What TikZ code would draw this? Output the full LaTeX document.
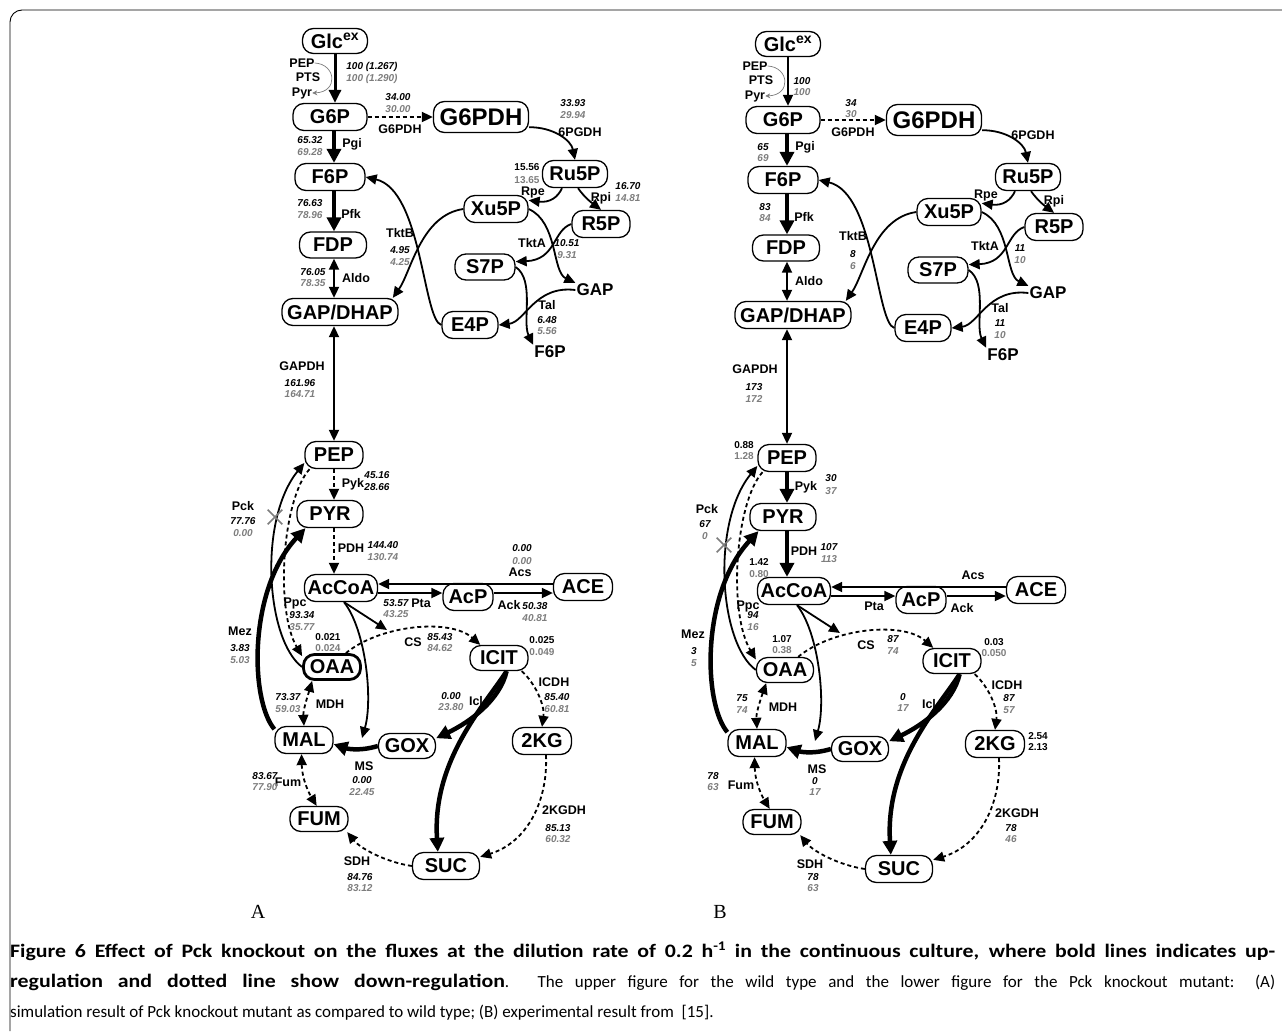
\documentclass[tikz,border=0pt]{standalone}
\usepackage{fontspec}
\setmainfont{Liberation Sans}
\newfontfamily\capfont{Carlito}
\newfontfamily\capb{Carlito}[FakeStretch=1.15]
\newfontfamily\serfont{Liberation Serif}
\usetikzlibrary{arrows.meta,shapes.misc}
\definecolor{gr}{RGB}{125,125,125}
\tikzset{
 met/.style={draw, line width=1.3pt, rounded corners=11pt, inner sep=0pt, font=\fontsize{20}{20}\selectfont\bfseries, minimum height=27pt},
 mt/.style={font=\fontsize{17}{17}\selectfont\bfseries, inner sep=1pt},
 rl/.style={font=\fontsize{12.5}{13}\selectfont\bfseries, inner sep=0pt},
 na/.style={font=\fontsize{10}{11}\selectfont\bfseries\itshape, inner sep=0pt},
 nb/.style={na, text=gr},
 ca/.style={font=\fontsize{10}{11}\selectfont\bfseries, inner sep=0pt},
 cb/.style={ca, text=gr},
 nl/.style={line width=1.8pt, -{Triangle[length=11pt,width=10pt]}},
 nd/.style={line width=1.8pt, {Triangle[length=11pt,width=10pt]}-{Triangle[length=11pt,width=10pt]}},
 bl/.style={line width=4.5pt, -{Triangle[length=14pt,width=14pt]}},
 ml/.style={line width=3pt, -{Triangle[length=13pt,width=12pt]}},
 dl/.style={nl, dash pattern=on 4pt off 3pt},
 dd/.style={nd, dash pattern=on 4pt off 3pt},
 ptsl/.style={color=gr, line width=0.7pt, -{Stealth[length=5pt,width=5pt]}},
 xm/.style={draw=gr, cross out, line width=1.6pt, minimum size=13pt, inner sep=0pt},
 capl/.style={anchor=base west, inner sep=0pt, font=\capfont\fontsize{17}{20}\selectfont},
}
\newcommand\nm[4]{\node[#1] (#2) at (#3) {#4};}
\newcommand\capbf[1]{{\capb\bfseries\fontsize{19}{20}\selectfont #1}}
\newcommand\drawpanel[1]{%
\node[met,minimum width=65pt,minimum height=25pt] (#1Glc) at (335,41) {Glc\textsuperscript{ex}};
\node[met,minimum width=74pt] (#1G6P) at (330,117) {G6P};
\node[met,minimum width=95pt,minimum height=31pt,font=\fontsize{24}{24}\selectfont\bfseries] (#1G6PDH) at (481,117) {G6PDH};
\node[met,minimum width=70pt] (#1F6P) at (330,177) {F6P};
\node[met,minimum width=65pt] (#1Ru5P) at (575,174) {Ru5P};
\node[met,minimum width=64pt] (#1Xu5P) at (496,209) {Xu5P};
\node[met,minimum width=58pt] (#1R5P) at (601,224) {R5P};
\node[met,minimum width=67pt,minimum height=26pt] (#1FDP) at (333,245) {FDP};
\node[met,minimum width=116pt] (#1GD) at (340,312) {GAP/DHAP};
\node[met,minimum width=60pt,minimum height=26pt] (#1S7P) at (485,267) {S7P};
\node[met,minimum width=56pt] (#1E4P) at (470,325) {E4P};
\node[mt] (#1GAPt) at (595,290) {GAP};
\node[mt] (#1F6Pt) at (550,352) {F6P};
\node[met,minimum width=58pt] (#1PEP) at (334,455) {PEP};
\node[met,minimum width=66pt] (#1PYR) at (330,514) {PYR};
\node[met,minimum width=73pt] (#1AcCoA) at (341,588) {AcCoA};
\node[met,minimum width=50pt] (#1AcP) at (468,597) {AcP};
\node[met,minimum width=59pt] (#1ACE) at (583,587) {ACE};
\node[met,sOAA,minimum width=57pt,minimum height=25pt] (#1OAA) at (332,667) {OAA};
\node[met,minimum width=58pt,minimum height=25pt] (#1ICIT) at (499,658) {ICIT};
\node[met,minimum width=58pt] (#1MAL) at (304,740) {MAL};
\node[met,minimum width=57pt,minimum height=25pt] (#1GOX) at (407,746) {GOX};
\node[met,minimum width=59pt] (#1KG) at (542,741) {2KG};
\node[met,minimum width=58pt,minimum height=25pt] (#1FUM) at (319,819) {FUM};
\node[met,minimum width=67pt] (#1SUC) at (446,866) {SUC};
\nm{rl}{#1lPEP}{302,63}{PEP}
\nm{rl}{#1lPTS}{308,77}{PTS}
\nm{rl}{#1lPyr}{302,93}{Pyr}
\nm{rl}{#1lG6PDH}{400,129}{G6PDH}
\nm{rl}{#1l6PGDH}{580,132}{6PGDH}
\nm{rl}{#1lPgi}{352,144}{Pgi}
\nm{rl}{#1lPfk}{351,214}{Pfk}
\nm{rl}{#1lAldo}{356,278}{Aldo}
\nm{rl}{#1lTktB}{400,233}{TktB}
\nm{rl}{#1lRpe}{533,192}{Rpe}
\nm{rl}{#1lRpi}{601,198}{Rpi}
\nm{rl}{#1lTktA}{532,243}{TktA}
\nm{rl}{#1lTal}{547,305}{Tal}
\nm{rl}{#1lGAPDH}{302,366}{GAPDH}
\nm{rl}{#1lPyk}{353,484}{Pyk}
\nm{rl}{#1lPDH}{351,548}{PDH}
\nm{rl}{#1lAcs}{520,572}{Acs}
\nm{rl}{#1lPta}{421,603}{Pta}
\nm{rl}{#1lAck}{509,605}{Ack}
\nm{rl}{#1lPpc}{295,603}{Ppc}
\nm{rl}{#1lMez}{240,631}{Mez}
\nm{rl}{#1lCS}{413,642}{CS}
\nm{rl}{#1lMDH}{330,704}{MDH}
\nm{rl}{#1lIcl}{476,701}{Icl}
\nm{rl}{#1lICDH}{554,682}{ICDH}
\nm{rl}{#1lMS}{364,766}{MS}
\nm{rl}{#1lFum}{288,782}{Fum}
\nm{rl}{#1l2KGDH}{564,810}{2KGDH}
\nm{rl}{#1lSDH}{357,861}{SDH}
\coordinate (#1x) at (334,0);
\coordinate (#1hi) at (0,584);
\coordinate (#1lo) at (0,593);
\coordinate (#1cs) at (387,630);
\coordinate (#1ms) at (362,738);
\draw[sGlc] (#1Glc.south) -- (#1Glc.south |- #1G6P.north);
\draw[ptsl] (#1lPEP.east) .. controls (336,64) and (339,92) .. (#1lPyr.east);
\draw[dl] (#1G6P) -- (#1G6PDH);
\draw[nl] (#1G6PDH.-12) .. controls (553,127) and (571,140) .. (#1Ru5P.north);
\draw[bl] (#1x |- #1G6P.south) -- (#1x |- #1F6P.north);
\draw[bl] (#1x |- #1F6P.south) -- (#1x |- #1FDP.north);
\draw[nd] (#1x |- #1FDP.south) -- (#1x |- #1GD.north);
\draw[nd] (#1x |- #1GD.south) -- (#1x |- #1PEP.north);
\draw[sPyk] (#1x |- #1PEP.south) -- (#1x |- #1PYR.north);
\draw[sPDH] (#1x |- #1PYR.south) -- (#1x |- #1AcCoA.north);
\draw[nl] ([xshift=-13pt]#1Ru5P.south) .. controls (558,197) and (550,203) .. (#1Xu5P.15);
\draw[nl] ([xshift=3pt]#1Ru5P.south) .. controls (585,198) and (592,203) .. (#1R5P.north);
\draw[nl] (#1Xu5P.east) .. controls (558,222) and (552,272) .. (#1GAPt.north west);
\draw[nl] (#1R5P.west) .. controls (553,230) and (556,260) .. (#1S7P.10);
\draw[nl] (#1S7P.east) .. controls (535,280) and (522,322) .. (#1F6Pt.north west);
\draw[nl] (#1GAPt.west) .. controls (535,285) and (525,322) .. (#1E4P.east);
\draw[nl] (#1E4P.west) .. controls (423,320) and (422,190) .. (#1F6P.east);
\draw[nl] (#1Xu5P.west) .. controls (421,215) and (411,272) .. (#1GD.15);
\draw[nl] (#1ACE.west |- #1hi) -- (#1AcCoA.east |- #1hi);
\draw[nl] (#1AcCoA.east |- #1lo) -- (#1AcP.west |- #1lo);
\draw[nl] (#1AcP.east |- #1lo) -- (#1ACE.west |- #1lo);
\draw[nl] ([xshift=3pt]#1AcCoA.south) -- (#1cs);
\draw[dl] (#1OAA.45) .. controls (380,625) and (450,618) .. (#1ICIT.145);
\draw[nl] ([xshift=3pt]#1AcCoA.south) .. controls (366,630) and (373,700) .. (#1ms);
\draw[bl] (#1GOX.west) .. controls (358,752) and (345,748) .. (#1MAL.-8);
\draw[bl] (#1ICIT.-60) .. controls (500,700) and (470,722) .. (#1GOX.15);
\draw[bl] (#1ICIT.-60) .. controls (485,705) and (432,760) .. (#1SUC.120);
\draw[dl] (#1ICIT.-30) .. controls (535,683) and (545,705) .. (#1KG.north);
\draw[dl] ([xshift=4pt]#1KG.south) .. controls (548,800) and (528,842) .. (#1SUC.15);
\draw[dl] (#1SUC.west) .. controls (385,862) and (360,848) .. (#1FUM.-25);
\draw[dd] (#1MAL.-100) .. controls (302,780) and (310,795) .. (#1FUM.100);
\draw[dd] (#1OAA.-145) .. controls (308,695) and (303,710) .. (#1MAL.north);
\draw[bl] (#1MAL.160) .. controls (250,700) and (248,590) .. (#1PYR.-150);
\draw[nl] (#1OAA.west) .. controls (266,640) and (258,520) .. (#1PEP.-165);
\draw[dl] (#1PEP.-150) .. controls (282,500) and (275,610) .. (#1OAA.160);
}
\begin{document}
\begin{tikzpicture}[x=1pt,y=-1pt]
\useasboundingbox (0,0) rectangle (1282,1031);
\fill[white] (0,0) rectangle (1282,1031);
\draw[line width=0.9pt, rounded corners=12pt] (1282,10) -- (10,10) -- (10,1031);
\begin{scope}[sGlc/.style=ml, sPyk/.style=dl, sPDH/.style=dl, sOAA/.style={line width=2.8pt}]
\drawpanel{a}
\end{scope}
\begin{scope}[shift={(453,3)}, sGlc/.style=nl, sPyk/.style=bl, sPDH/.style=bl, sOAA/.style={}]
\drawpanel{b}
\end{scope}
% Pck labels and knockout marks
\nm{rl}{aPck}{243,506}{Pck}
\nm{rl}{bPck}{707,509}{Pck}
\nm{xm}{aX}{275,517}{}
\nm{xm}{bX}{724,545}{}
% panel A numbers
\nm{na}{a1}{372,67}{100 (1.267)}
\nm{nb}{a2}{372,79}{100 (1.290)}
\nm{na}{a3}{398,97}{34.00}
\nm{nb}{a4}{398,109}{30.00}
\nm{na}{a5}{573,103}{33.93}
\nm{nb}{a6}{573,115}{29.94}
\nm{na}{a7}{310,140}{65.32}
\nm{nb}{a8}{310,152}{69.28}
\nm{ca}{a9}{527,167}{15.56}
\nm{cb}{a10}{527,180}{13.65}
\nm{na}{a11}{628,186}{16.70}
\nm{nb}{a12}{628,198}{14.81}
\nm{na}{a13}{310,203}{76.63}
\nm{nb}{a14}{310,215}{78.96}
\nm{na}{a15}{400,250}{4.95}
\nm{nb}{a16}{400,262}{4.25}
\nm{na}{a17}{567,243}{10.51}
\nm{nb}{a18}{567,255}{9.31}
\nm{na}{a19}{313,272}{76.05}
\nm{nb}{a20}{313,283}{78.35}
\nm{na}{a21}{547,320}{6.48}
\nm{nb}{a22}{547,331}{5.56}
\nm{na}{a23}{300,383}{161.96}
\nm{nb}{a24}{300,394}{164.71}
\nm{na}{a25}{377,475}{45.16}
\nm{na}{a26}{377,487}{28.66}
\nm{na}{a27}{243,521}{77.76}
\nm{nb}{a28}{243,533}{0.00}
\nm{na}{a29}{383,545}{144.40}
\nm{nb}{a30}{383,557}{130.74}
\nm{na}{a31}{522,548}{0.00}
\nm{nb}{a32}{522,561}{0.00}
\nm{na}{a33}{302,615}{93.34}
\nm{nb}{a34}{302,627}{35.77}
\nm{na}{a35}{396,603}{53.57}
\nm{nb}{a36}{396,614}{43.25}
\nm{na}{a37}{535,606}{50.38}
\nm{nb}{a38}{535,618}{40.81}
\nm{ca}{a39}{328,637}{0.021}
\nm{cb}{a40}{328,648}{0.024}
\nm{na}{a41}{440,637}{85.43}
\nm{nb}{a42}{440,648}{84.62}
\nm{ca}{a43}{542,640}{0.025}
\nm{cb}{a44}{542,652}{0.049}
\nm{na}{a45}{240,648}{3.83}
\nm{nb}{a46}{240,660}{5.03}
\nm{na}{a47}{288,697}{73.37}
\nm{nb}{a48}{288,709}{59.03}
\nm{na}{a49}{451,696}{0.00}
\nm{nb}{a50}{451,707}{23.80}
\nm{na}{a51}{557,697}{85.40}
\nm{nb}{a52}{557,709}{60.81}
\nm{na}{a53}{362,780}{0.00}
\nm{nb}{a54}{362,792}{22.45}
\nm{na}{a55}{265,776}{83.67}
\nm{nb}{a56}{265,787}{77.90}
\nm{na}{a57}{558,828}{85.13}
\nm{nb}{a58}{558,839}{60.32}
\nm{na}{a59}{360,877}{84.76}
\nm{nb}{a60}{360,888}{83.12}
% panel B numbers
\nm{na}{b1}{802,81}{100}
\nm{nb}{b2}{802,92}{100}
\nm{na}{b3}{851,103}{34}
\nm{nb}{b4}{851,114}{30}
\nm{na}{b5}{763,147}{65}
\nm{nb}{b6}{763,158}{69}
\nm{na}{b7}{765,207}{83}
\nm{nb}{b8}{765,218}{84}
\nm{na}{b9}{853,254}{8}
\nm{nb}{b10}{853,266}{6}
\nm{na}{b11}{1020,248}{11}
\nm{nb}{b12}{1020,260}{10}
\nm{na}{b13}{1000,323}{11}
\nm{nb}{b14}{1000,335}{10}
\nm{na}{b15}{754,387}{173}
\nm{nb}{b16}{754,399}{172}
\nm{ca}{b17}{744,445}{0.88}
\nm{cb}{b18}{744,456}{1.28}
\nm{na}{b19}{831,478}{30}
\nm{nb}{b20}{831,491}{37}
\nm{na}{b21}{705,524}{67}
\nm{nb}{b22}{705,536}{0}
\nm{na}{b23}{829,547}{107}
\nm{nb}{b24}{829,559}{113}
\nm{ca}{b25}{759,562}{1.42}
\nm{cb}{b26}{759,574}{0.80}
\nm{na}{b27}{753,615}{94}
\nm{nb}{b28}{753,627}{16}
\nm{ca}{b29}{782,639}{1.07}
\nm{cb}{b30}{782,650}{0.38}
\nm{na}{b31}{893,639}{87}
\nm{nb}{b32}{893,651}{74}
\nm{ca}{b33}{994,642}{0.03}
\nm{cb}{b34}{994,653}{0.050}
\nm{na}{b35}{694,651}{3}
\nm{nb}{b36}{694,663}{5}
\nm{na}{b37}{742,698}{75}
\nm{nb}{b38}{742,710}{74}
\nm{na}{b39}{903,697}{0}
\nm{nb}{b40}{903,708}{17}
\nm{na}{b41}{1009,698}{87}
\nm{nb}{b42}{1009,710}{57}
\nm{ca}{b43}{1038,736}{2.54}
\nm{ca}{b44}{1038,747}{2.13}
\nm{na}{b45}{815,781}{0}
\nm{nb}{b46}{815,792}{17}
\nm{na}{b47}{713,776}{78}
\nm{nb}{b48}{713,787}{63}
\nm{na}{b49}{1011,828}{78}
\nm{nb}{b50}{1011,839}{46}
\nm{na}{b51}{813,877}{78}
\nm{nb}{b52}{813,888}{63}
% panel letters
\node[font=\serfont\fontsize{20}{20}\selectfont] (labA) at (258,912) {A};
\node[font=\serfont\fontsize{20}{20}\selectfont] (labB) at (720,912) {B};
% caption
\node[capl] (cap1) at (10,957) {\makebox[1265pt][s]{\capbf{Figure 6 Effect of Pck knockout on the fluxes at the dilution rate of 0.2 h\textsuperscript{-1} in the continuous culture, where bold lines indicates up-}}};
\node[capl] (cap2) at (10,987) {\makebox[1265pt][s]{\capbf{regulation and dotted line show down-regulation}. The upper figure for the wild type and the lower figure for the Pck knockout mutant: (A)}};
\node[capl] (cap3) at (10,1017) {simulation result of Pck knockout mutant as compared to wild type; (B) experimental result from\ \ [15].};
\end{tikzpicture}
\end{document}
